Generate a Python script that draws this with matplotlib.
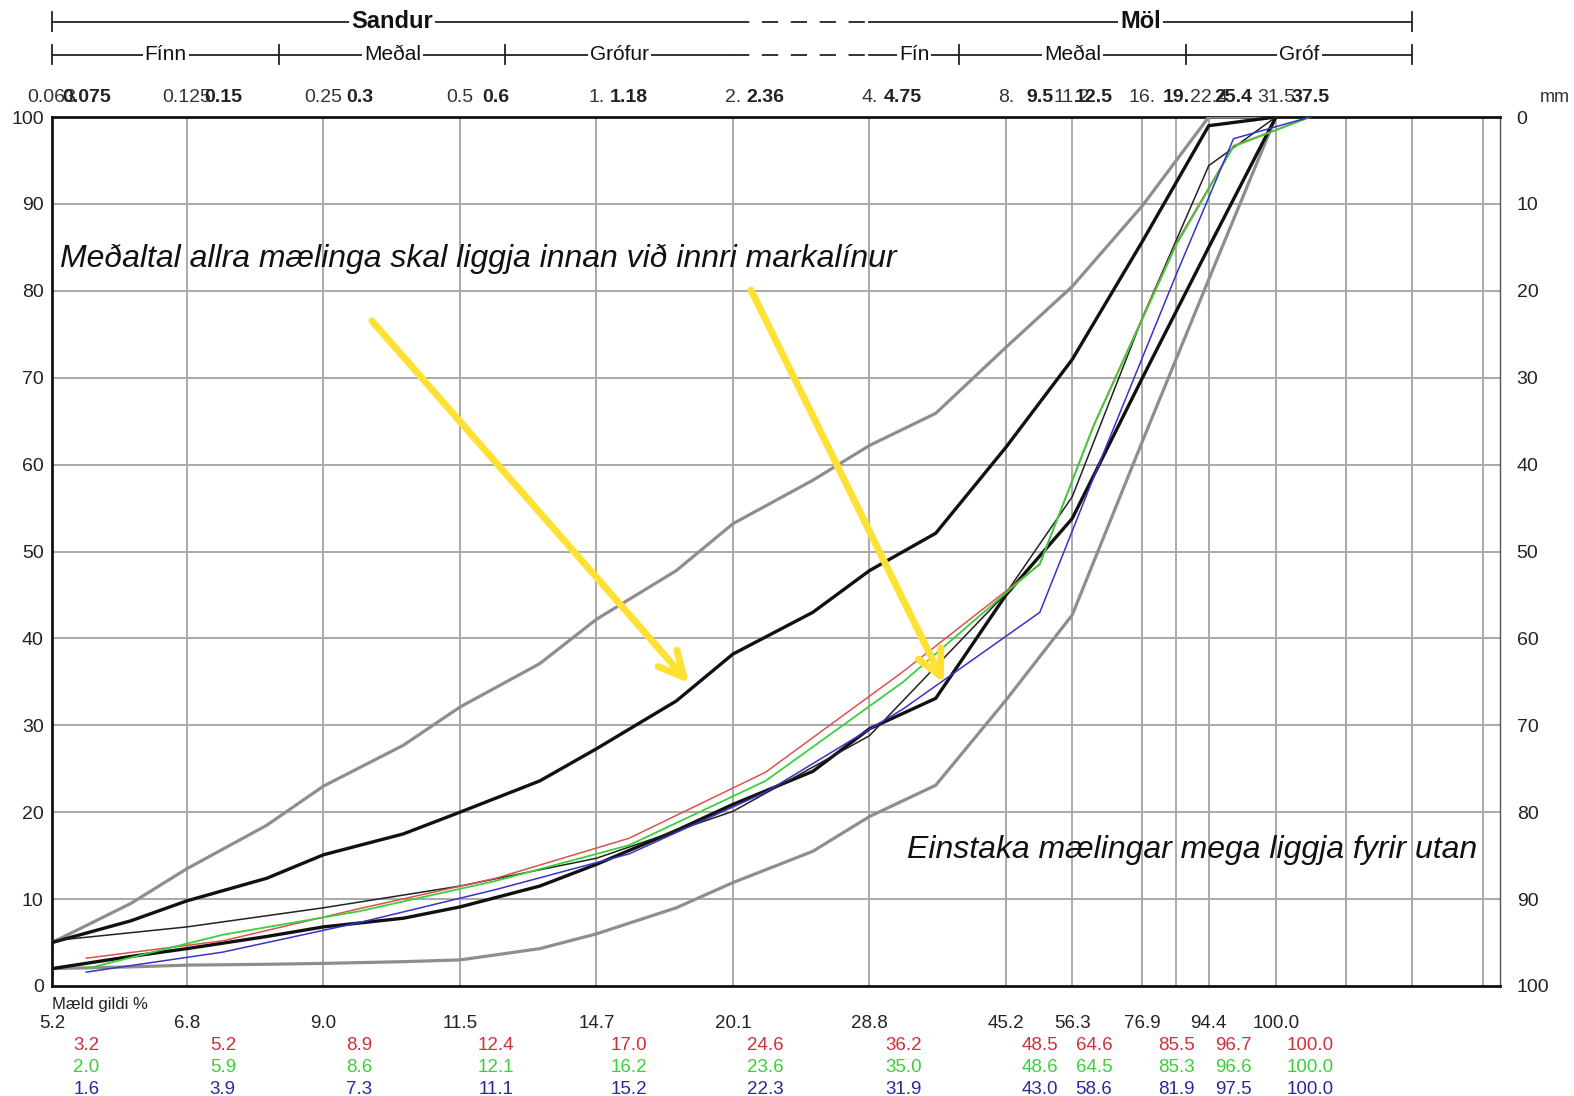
import matplotlib
matplotlib.use("Agg")
import matplotlib.pyplot as plt
from matplotlib.transforms import blended_transform_factory

plt.rcParams['font.family'] = ['Liberation Sans', 'DejaVu Sans']

# ---------------- data ----------------
iso_sizes = [0.063, 0.125, 0.25, 0.5, 1, 2, 4, 8, 11.2, 16, 22.4, 31.5]
iso_labels = ["0.063", "0.125", "0.25", "0.5", "1.", "2.", "4.", "8.", "11.2", "16.", "22.4", "31.5"]
astm_sizes = [0.075, 0.15, 0.3, 0.6, 1.18, 2.36, 4.75, 9.5, 12.5, 19, 25.4, 37.5]
astm_labels = ["0.075", "0.15", "0.3", "0.6", "1.18", "2.36", "4.75", "9.5", "12.5", "19.", "25.4", "37.5"]
grid_sizes = [0.125, 0.25, 0.5, 1, 2, 4, 8, 11.2, 16, 19, 22.4, 31.5, 45, 63, 90]

measured_pct = [5.2, 6.8, 9.0, 11.5, 14.7, 20.1, 28.8, 45.2, 56.3, 76.9, 94.4, 100.0]
red_pct = [3.2, 5.2, 8.9, 12.4, 17.0, 24.6, 36.2, 48.5, 64.6, 85.5, 96.7, 100.0]
green_pct = [2.0, 5.9, 8.6, 12.1, 16.2, 23.6, 35.0, 48.6, 64.5, 85.3, 96.6, 100.0]
blue_pct = [1.6, 3.9, 7.3, 11.1, 15.2, 22.3, 31.9, 43.0, 58.6, 81.9, 97.5, 100.0]

limit_sizes = [0.063, 0.094, 0.125, 0.1875, 0.25, 0.375, 0.5, 0.75, 1, 1.5, 2, 3, 4, 5.6, 8, 11.2, 16, 22.4, 31.5]
outer_upper = [5.0, 9.5, 13.5, 18.5, 23.0, 27.7, 32.1, 37.1, 42.2, 47.8, 53.2, 58.2, 62.2, 65.9, 73.5, 80.5, 89.8, 100.0, 100.0]
inner_upper = [5.0, 7.5, 9.8, 12.4, 15.1, 17.5, 20.0, 23.6, 27.3, 32.8, 38.2, 43.0, 47.8, 52.1, 62.0, 72.1, 85.7, 99.0, 100.0]
inner_lower = [2.0, 3.4, 4.3, 5.7, 6.8, 7.8, 9.1, 11.5, 14.0, 17.9, 20.9, 24.7, 29.6, 33.1, 45.0, 53.8, 70.0, 85.0, 100.0]
outer_lower = [2.0, 2.2, 2.4, 2.5, 2.6, 2.8, 3.0, 4.3, 6.0, 9.0, 11.9, 15.5, 19.5, 23.1, 32.9, 42.7, 62.7, 81.3, 100.0]

main_groups = [("Sandur", 0.063, 2), ("Möl", 4, 63)]
sub_groups = [("Fínn", 0.063, 0.2), ("Meðal", 0.2, 0.63), ("Grófur", 0.63, 2),
              ("Fín", 4, 6.3), ("Meðal", 6.3, 20), ("Gróf", 20, 63)]
transition = (2, 4)
y_ticks = list(range(0, 101, 10))

note_inner = "Meðaltal allra mælinga skal liggja innan við innri markalínur"
note_outer = "Einstaka mælingar mega liggja fyrir utan"

# ---------------- figure ----------------
W, H = 1574, 1096
fig = plt.figure(figsize=(W / 100, H / 100), dpi=100)
L, R, T, B = 52, 1500, 117, 986
ax = fig.add_axes([L / W, 1 - B / H, (R - L) / W, (B - T) / H])
ax.set_xscale('log')
ax.set_xlim(0.063, 98.3)
ax.set_ylim(0, 100)

def ay(py):
    return (B - py) / (B - T)

def axx(px):
    return (px - L) / (R - L)

grid_c = '#a9a9a9'
for g in grid_sizes:
    ax.axvline(g, color=grid_c, lw=1.4, zorder=1)
for yv in y_ticks[1:-1]:
    ax.axhline(yv, color=grid_c, lw=1.4, zorder=1)

ax.set_yticks(y_ticks)
ax.set_xticks([])
ax.xaxis.set_minor_locator(matplotlib.ticker.NullLocator())
ax.tick_params(axis='y', length=0, pad=6, labelcolor='#222222', labelsize=14)
for s in ['left', 'top', 'bottom']:
    ax.spines[s].set_linewidth(2.0)
    ax.spines[s].set_color('#111111')
ax.spines['right'].set_linewidth(1.0)
ax.spines['right'].set_color('#555555')

ax2 = ax.twinx()
ax2.set_ylim(100, 0)
ax2.set_yticks(y_ticks)
ax2.tick_params(axis='y', length=0, pad=12, labelcolor='#222222', labelsize=14)
for s in ax2.spines.values():
    s.set_visible(False)

# limit curves
gray_c = '#8e8e8e'
ax.plot(limit_sizes, outer_upper, color=gray_c, lw=2.3, zorder=3)
ax.plot(limit_sizes, outer_lower, color=gray_c, lw=2.3, zorder=3)
ax.plot(limit_sizes, inner_upper, color='#111111', lw=2.4, zorder=4)
ax.plot(limit_sizes, inner_lower, color='#111111', lw=2.4, zorder=4)

# measured curves
ax.plot(iso_sizes, measured_pct, color='#222222', lw=1.1, zorder=5)
red_c, green_c, blue_c = '#d9534f', '#3ccf3c', '#3434c8'
ax.plot(astm_sizes, red_pct, color=red_c, lw=1.1, zorder=5)
ax.plot(astm_sizes, green_pct, color=green_c, lw=1.3, zorder=5)
ax.plot(astm_sizes, blue_pct, color=blue_c, lw=1.1, zorder=6)

tr = blended_transform_factory(ax.transData, ax.transAxes)

# top sieve labels
lab_y = ay(97.5)
for s, t in zip(iso_sizes, iso_labels):
    ax.text(s, lab_y, t, transform=tr, ha='center', va='center', fontsize=14, color='#333333')
for s, t in zip(astm_sizes, astm_labels):
    ax.text(s, lab_y, t, transform=tr, ha='center', va='center', fontsize=14,
            fontweight='bold', color='#222222')
fig.text(1555 / W, 1 - 97.5 / H, "mm", ha='center', va='center', fontsize=13, color='#333333')

# group bars
def bar_row(yy, groups, bold, size):
    for name, a, b in groups:
        ax.plot([a, b], [yy, yy], transform=tr, color='#222222', lw=1.3, clip_on=False)
        mid = (a * b) ** 0.5
        ax.text(mid, yy, name, transform=tr, ha='center', va='center', fontsize=size,
                fontweight='bold' if bold else 'normal', color='#111111',
                bbox=dict(facecolor='white', edgecolor='none', pad=1.5))
    ax.plot(list(transition), [yy, yy], transform=tr, color='#222222', lw=1.3,
            ls=(0, (9, 7)), clip_on=False)

row1, row2 = ay(21.5), ay(54.5)
bar_row(row1, main_groups, True, 17)
bar_row(row2, sub_groups, False, 15)
tick_h = 0.011
for xv in [0.063, 63]:
    ax.plot([xv, xv], [row1 - tick_h, row1 + tick_h], transform=tr, color='#222222', lw=1.3, clip_on=False)
for xv in [0.063, 0.2, 0.63, 6.3, 20, 63]:
    ax.plot([xv, xv], [row2 - tick_h, row2 + tick_h], transform=tr, color='#222222', lw=1.3, clip_on=False)

# bottom table
ax.text(0.063, ay(1005), "Mæld gildi %", transform=tr, ha='left', va='center', fontsize=12,
        color='#222222')
for s, v in zip(iso_sizes, measured_pct):
    ax.text(s, ay(1024), f"{v:.1f}", transform=tr, ha='center', va='center', fontsize=13.5,
            color='#222222')
for vals, col, py in [(red_pct, '#d0303a', 1046), (green_pct, '#3ccf3c', 1068), (blue_pct, '#2a2a9a', 1089)]:
    for s, v in zip(astm_sizes, vals):
        ax.text(s, ay(py), f"{v:.1f}", transform=tr, ha='center', va='center', fontsize=13.5,
                color=col)

# notes and arrows
ax.text(axx(60), ay(259), note_inner, transform=ax.transAxes, ha='left', va='center',
        fontsize=23, style='italic', color='#111111', zorder=8)
ax.text(axx(907), ay(850), note_outer, transform=ax.transAxes, ha='left', va='center',
        fontsize=23, style='italic', color='#111111', zorder=8)
yel = '#ffe135'
for (tx, ty), (hx, hy) in [((372, 321), (689, 683)), ((751, 290), (944, 683))]:
    ax.annotate('', xy=(axx(hx), ay(hy)), xytext=(axx(tx), ay(ty)), xycoords='axes fraction',
                textcoords='axes fraction',
                arrowprops=dict(arrowstyle='->,head_length=0.9,head_width=0.45', color=yel,
                                lw=5, mutation_scale=20, shrinkA=0, shrinkB=0), zorder=9)

fig.savefig('out.png', dpi=100)
